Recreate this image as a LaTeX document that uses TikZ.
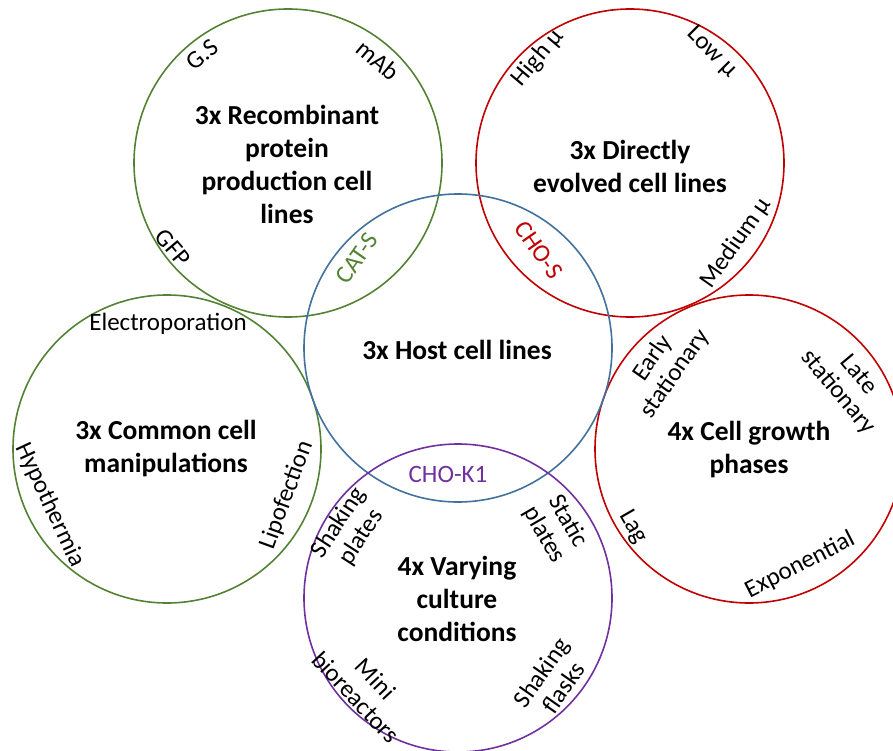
\documentclass[tikz,border=0pt]{standalone}
\usepackage{fontspec}
\setmainfont{Carlito}
\definecolor{cgreen}{HTML}{548235}
\definecolor{cred}{HTML}{C00000}
\definecolor{cblue}{HTML}{41719C}
\definecolor{cpurple}{HTML}{7030A0}
\begin{document}
\begin{tikzpicture}[x=1pt,y=-1pt,
  ring/.style={circle, draw=#1, line width=1.6pt, minimum size=308pt, inner sep=0pt},
  title/.style={font=\fontsize{27.5}{33}\selectfont\bfseries, align=center, inner sep=0pt},
  lab/.style={font=\fontsize{25}{27}\selectfont, align=center, inner sep=0pt}]
\useasboundingbox (0,0) rectangle (893,751);
% circles
\node[ring=cgreen]  (rec)  at (288,163) {};
\node[ring=cred]    (evo)  at (630,163) {};
\node[ring=cgreen]  (man)  at (167,449) {};
\node[ring=cred]    (gro)  at (749,449) {};
\node[ring=cblue]   (host) at (458,348) {};
\node[ring=cpurple] (cul)  at (458,598) {};
% titles
\node[title] (trec)  at (287,164) {3x Recombinant\\protein\\production cell\\lines};
\node[title] (tevo)  at (630,166) {3x Directly\\evolved cell lines};
\node[title] (tman)  at (166,449) {3x Common cell\\manipulations};
\node[title] (tgro)  at (749,450) {4x Cell growth\\phases};
\node[title] (thost) at (457,350) {3x Host cell lines};
\node[title] (tcul)  at (457,599) {4x Varying\\culture\\conditions};
% recombinant labels
\node[lab, rotate=40]  (gs)   at (202,55)  {G.S};
\node[lab, rotate=-40] (mab)  at (378,60)  {mAb};
\node[lab, rotate=-50] (gfp)  at (173,248) {GFP};
\node[lab, rotate=55, text=cgreen] (cats) at (357,258) {CAT-S};
% evolved labels
\node[lab, rotate=50]  (high) at (538,58)  {High μ};
\node[lab, rotate=-45] (low)  at (712,52)  {Low μ};
\node[lab, rotate=55]  (med)  at (736,243) {Medium μ};
\node[lab, rotate=-55, text=cred] (chos) at (539,250) {CHO-S};
% manipulation labels
\node[lab] (elec) at (168,324) {Electroporation};
\node[lab, rotate=-65] (hypo) at (50,505) {Hypothermia};
\node[lab, rotate=70]  (lipo) at (287,495) {Lipofection};
% growth labels
\node[lab, rotate=55]  (early) at (664,366) {Early\\stationary};
\node[lab, rotate=-50] (late)  at (848,384) {Late\\stationary};
\node[lab, rotate=-60] (lag)   at (633,527) {Lag};
\node[lab, rotate=27]  (expo)  at (800,565) {Exponential};
% culture labels
\node[lab, text=cpurple] (chok) at (448,474) {CHO-K1};
\node[lab, rotate=57]  (shp)  at (350,530) {Shaking\\plates};
\node[lab, rotate=-60] (stp)  at (556,528) {Static\\plates};
\node[lab, rotate=-47] (mini) at (366,688) {Mini\\bioreactors};
\node[lab, rotate=55]  (shf)  at (552,680) {Shaking\\flasks};
\end{tikzpicture}
\end{document}
